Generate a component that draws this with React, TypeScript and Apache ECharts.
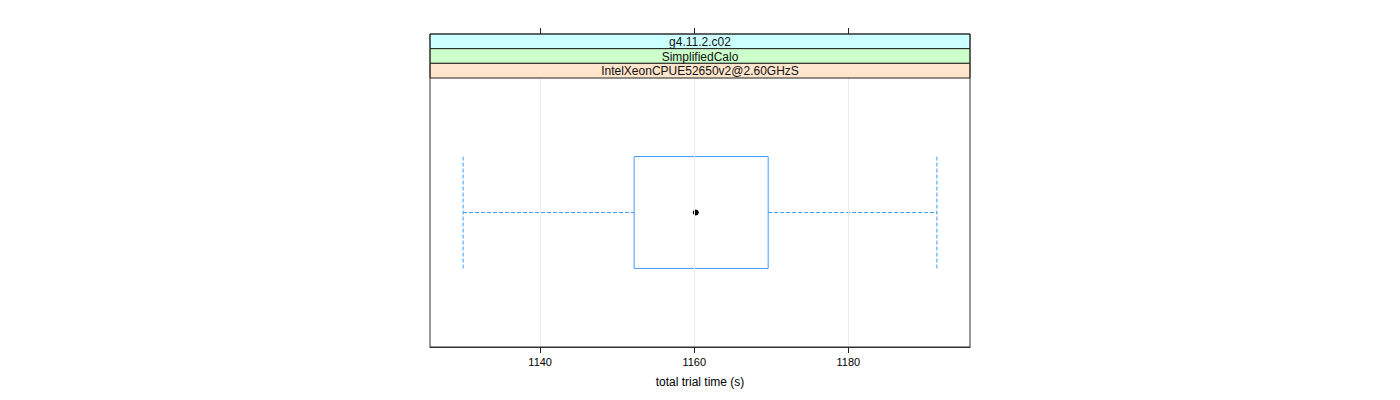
import React, { useEffect, useRef } from "react";
import * as echarts from "echarts";

const stripLabels = ["g4.11.2.c02", "SimplifiedCalo", "IntelXeonCPUE52650v2@2.60GHzS"];
const stripColors = ["#ccffff", "#ccffcc", "#ffe5cc"];
const categories = ["run"];
// [lower whisker, Q1, median, Q3, upper whisker]
const boxStats = [1130.0, 1152.2, 1160.2, 1169.6, 1191.5];
const tickValues = [1140, 1160, 1180];
const axisMin = 1125.7;
const axisMax = 1195.8;
const axisTitle = "total trial time (s)";

const PANEL_LEFT = 430;
const PANEL_W = 540;
const PANEL_TOP = 34;
const STRIP_H = 44 / 3;
const PLOT_TOP = 78;
const PLOT_H = 269;
const FONT = "'Liberation Sans', Arial, Helvetica, sans-serif";
const BLUE = "#3d9cff";

export default function App() {
  const ref = useRef<HTMLDivElement>(null);
  useEffect(() => {
    if (!ref.current) return;
    const chart = echarts.init(ref.current, undefined, { renderer: "svg" });
    const graphics: any[] = [];
    stripLabels.forEach((lab, i) => {
      const y = PANEL_TOP + i * STRIP_H;
      graphics.push({
        type: "rect",
        shape: { x: PANEL_LEFT, y, width: PANEL_W, height: STRIP_H },
        style: { fill: stripColors[i], stroke: "#222", lineWidth: 1 },
        silent: true,
        z: 10,
      });
      graphics.push({
        type: "text",
        x: PANEL_LEFT + PANEL_W / 2,
        y: y + STRIP_H / 2 + 0.5,
        style: {
          text: lab,
          fill: "#111",
          font: `12px ${FONT}`,
          align: "center",
          verticalAlign: "middle",
        },
        silent: true,
        z: 11,
      });
    });
    graphics.push({
      type: "rect",
      shape: { x: PANEL_LEFT, y: PANEL_TOP, width: PANEL_W, height: PLOT_TOP + PLOT_H - PANEL_TOP },
      style: { fill: "none", stroke: "#333", lineWidth: 1 },
      silent: true,
      z: 12,
    });

    const fmt = (v: number) => String(Math.round(v));
    const tickStyle = { show: true, inside: false, length: 6, customValues: tickValues, lineStyle: { color: "#222", width: 1 } };

    chart.setOption({
      animation: false,
      backgroundColor: "#fff",
      graphic: graphics,
      grid: [
        { left: PANEL_LEFT, top: PANEL_TOP, width: PANEL_W, height: PLOT_TOP + PLOT_H - PANEL_TOP },
        { left: PANEL_LEFT, top: PLOT_TOP, width: PANEL_W, height: PLOT_H },
      ],
      xAxis: [
        {
          gridIndex: 0,
          type: "value",
          position: "top",
          min: axisMin,
          max: axisMax,
          axisLine: { show: true, onZero: false, lineStyle: { color: "#333" } },
          axisTick: tickStyle,
          axisLabel: { show: true, customValues: tickValues, formatter: () => "" },
          splitLine: { show: false },
        },
        {
          gridIndex: 1,
          type: "value",
          position: "bottom",
          min: axisMin,
          max: axisMax,
          name: axisTitle,
          nameLocation: "middle",
          nameGap: 29,
          nameTextStyle: { color: "#000", fontSize: 12, fontFamily: FONT },
          axisLine: { show: true, onZero: false, lineStyle: { color: "#333" } },
          axisTick: tickStyle,
          axisLabel: {
            customValues: tickValues,
            formatter: fmt,
            color: "#000",
            fontSize: 11,
            fontFamily: FONT,
            margin: 9,
          },
          splitLine: { show: false },
        },
      ],
      yAxis: [
        { gridIndex: 0, type: "value", show: false, min: 0, max: 1 },
        { gridIndex: 1, type: "category", data: categories, show: false },
      ],
      series: [
        {
          type: "custom",
          xAxisIndex: 1,
          yAxisIndex: 1,
          data: [[0, ...boxStats]],
          encode: { x: [1, 2, 3, 4, 5], y: 0 },
          markLine: {
            silent: true,
            symbol: "none",
            label: { show: false },
            lineStyle: { color: "#ebebeb", type: "solid", width: 1 },
            data: tickValues.map((v) => ({ xAxis: v })),
          },
          renderItem: (params: any, api: any) => {
            const cat = api.value(0);
            const lo = api.coord([api.value(1), cat]);
            const q1 = api.coord([api.value(2), cat]);
            const med = api.coord([api.value(3), cat]);
            const q3 = api.coord([api.value(4), cat]);
            const hi = api.coord([api.value(5), cat]);
            const band = api.size([0, 1])[1];
            const h = band * 0.208;
            const cy = med[1];
            const dash = { stroke: BLUE, lineWidth: 1, lineDash: [4, 2], fill: "none" };
            return {
              type: "group",
              children: [
                { type: "line", shape: { x1: lo[0], y1: cy, x2: q1[0], y2: cy }, style: dash },
                { type: "line", shape: { x1: q3[0], y1: cy, x2: hi[0], y2: cy }, style: dash },
                { type: "line", shape: { x1: lo[0], y1: cy - h, x2: lo[0], y2: cy + h }, style: dash },
                { type: "line", shape: { x1: hi[0], y1: cy - h, x2: hi[0], y2: cy + h }, style: dash },
                {
                  type: "rect",
                  shape: { x: q1[0], y: cy - h, width: q3[0] - q1[0], height: 2 * h },
                  style: { fill: "none", stroke: BLUE, lineWidth: 1 },
                },
                { type: "circle", shape: { cx: med[0], cy, r: 3 }, style: { fill: "#000" } },
              ],
            };
          },
        },
      ],
    });
    return () => chart.dispose();
  }, []);
  return (
    <div
      ref={ref}
      style={{ position: "fixed", left: 0, top: 0, width: 1400, height: 400 }}
    />
  );
}
